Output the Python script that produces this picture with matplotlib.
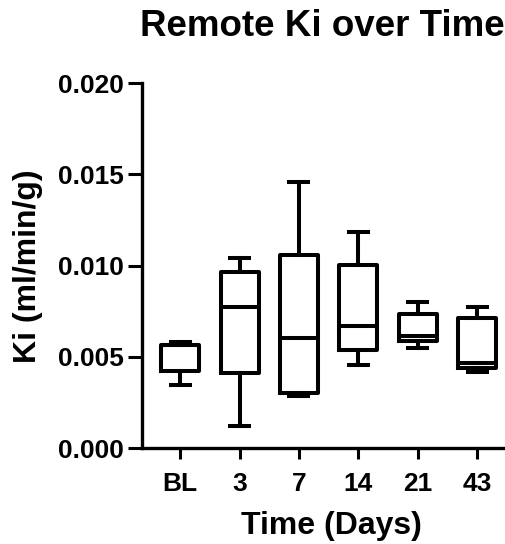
import matplotlib
matplotlib.use("Agg")
import matplotlib.pyplot as plt

plt.rcParams['font.family'] = ['Liberation Sans', 'DejaVu Sans']
plt.rcParams['font.weight'] = 'bold'

# Box plot summary per time point
groups = ["BL", "3", "7", "14", "21", "43"]
whislo = [0.00349, 0.00124, 0.00285, 0.00455, 0.00552, 0.00418]
q1 = [0.00426, 0.00415, 0.00303, 0.00541, 0.00586, 0.00440]
med = [0.00568, 0.00773, 0.00606, 0.00668, 0.00614, 0.00467]
q3 = [0.00568, 0.00966, 0.01061, 0.01003, 0.00738, 0.00714]
whishi = [0.00583, 0.01043, 0.01459, 0.01185, 0.00802, 0.00774]

stats = []
for i, g in enumerate(groups):
    stats.append(dict(label=g, whislo=whislo[i], q1=q1[i], med=med[i],
                      q3=q3[i], whishi=whishi[i], fliers=[]))

fig = plt.figure(figsize=(5.06, 5.44), dpi=100)
ax = fig.add_axes([0.281, 0.176, 0.75, 0.671])

lw = 2.9
ax.bxp(stats, positions=range(len(groups)), widths=0.64, showfliers=False,
       boxprops=dict(color='black', linewidth=lw),
       whiskerprops=dict(color='black', linewidth=lw),
       capprops=dict(color='black', linewidth=lw),
       medianprops=dict(color='black', linewidth=lw))

ax.set_ylim(0, 0.020)
ax.set_xlim(-0.64, 5.75)
ax.set_yticks([0.000, 0.005, 0.010, 0.015, 0.020])
ax.set_yticklabels(["0.000", "0.005", "0.010", "0.015", "0.020"])
ax.set_xticks(range(len(groups)))
ax.set_xticklabels(groups)

for s in ['top', 'right']:
    ax.spines[s].set_visible(False)
for s in ['left', 'bottom']:
    ax.spines[s].set_linewidth(2.4)
ax.tick_params(axis='y', width=2.2, length=10, labelsize=19, pad=3)
ax.tick_params(axis='x', width=2.2, length=8, labelsize=19, pad=9)

ax.set_ylabel("Ki (ml/min/g)", fontsize=23, fontweight='bold', labelpad=11)
ax.set_xlabel("Time (Days)", fontsize=23, fontweight='bold', labelpad=11)

fig.text(0.277, 0.952, "Remote Ki over Time", fontsize=26.5, fontweight='bold',
         ha='left', va='center')

fig.savefig("out.png", dpi=100)
